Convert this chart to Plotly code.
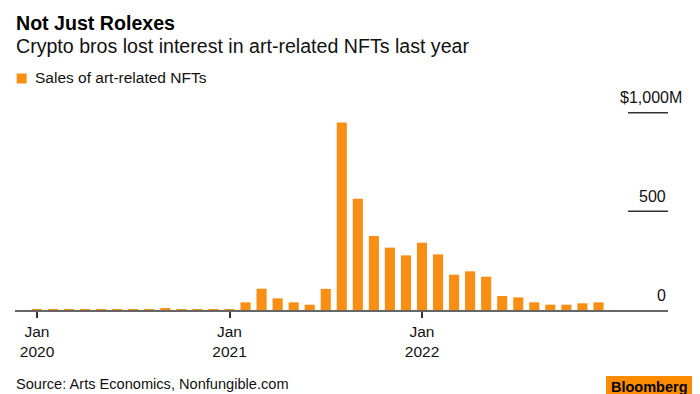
import plotly.graph_objects as go

# ---- data ----
month_labels = [f"{m} {y}" for y in (2020, 2021, 2022)
                for m in ["Jan", "Feb", "Mar", "Apr", "May", "Jun",
                          "Jul", "Aug", "Sep", "Oct", "Nov", "Dec"]]
sales_2020 = [4, 3, 3, 3, 3, 3, 3, 3, 10, 3, 3, 3]
sales_2021 = [4, 39, 108, 59, 39, 27, 107, 950, 564, 375, 316, 277]
sales_2022 = [341, 282, 179, 196, 169, 71, 64, 39, 27, 27, 34, 39]
sales = sales_2020 + sales_2021 + sales_2022
month_index = list(range(len(sales)))

tick_vals = [0, 12, 24]
tick_text = ["Jan<br>2020", "Jan<br>2021", "Jan<br>2022"]
y_ticks = [0, 500, 1000]
y_tick_text = ["0", "500", "$1,000M"]

title = "Not Just Rolexes"
subtitle = "Crypto bros lost interest in art-related NFTs last year"
series_name = "Sales of art-related NFTs"
source = "Source: Arts Economics, Nonfungible.com"

# ---- layout geometry ----
W, H = 700, 394
ML, MR, MT, MB = 15, 32, 110, 84
PW, PH = W - ML - MR, H - MT - MB
FONT = "Liberation Sans, Arial, Helvetica, sans-serif"
ORANGE = "#F98E14"


def px_x(px):
    return (px - ML) / PW


def px_y(py):
    return (H - MB - py) / PH


fig = go.Figure()
fig.add_trace(go.Bar(
    x=month_index, y=sales, name=series_name,
    marker=dict(color=ORANGE, line=dict(width=0)),
    customdata=month_labels,
    hovertemplate="%{customdata}: $%{y}M<extra></extra>",
))

shapes = []
annotations = []

# right-side short gridlines
for v in y_ticks[1:]:
    shapes.append(dict(type="line", xref="paper", yref="y",
                       x0=px_x(628), x1=1, y0=v, y1=v,
                       line=dict(color="#333333", width=1.5)))

# y tick labels
label_shift = {0: 0, 500: 0, 1000: 16}
label_yshift = {0: 15, 500: 14.5, 1000: 15.5}
for v, t in zip(y_ticks, y_tick_text):
    annotations.append(dict(xref="paper", yref="y", x=1, y=v, text=t,
                            xanchor="right", yanchor="middle",
                            xshift=label_shift[v], yshift=label_yshift[v],
                            showarrow=False,
                            font=dict(family=FONT, size=16, color="#111111")))

# title, subtitle
annotations.append(dict(xref="paper", yref="paper", x=px_x(14), y=px_y(22.5),
                        text=f"<b>{title}</b>", xanchor="left", yanchor="middle",
                        showarrow=False,
                        font=dict(family=FONT, size=19.6, color="#000000")))
annotations.append(dict(xref="paper", yref="paper", x=px_x(14), y=px_y(45.5),
                        text=subtitle, xanchor="left", yanchor="middle",
                        showarrow=False,
                        font=dict(family=FONT, size=19.6, color="#111111")))

# legend
shapes.append(dict(type="rect", xref="paper", yref="paper",
                   x0=px_x(16.7), x1=px_x(26.7), y0=px_y(83.5), y1=px_y(73.5),
                   fillcolor=ORANGE, line=dict(width=0)))
annotations.append(dict(xref="paper", yref="paper", x=px_x(32.5), y=px_y(77.5),
                        text=series_name, xanchor="left", yanchor="middle",
                        showarrow=False,
                        font=dict(family=FONT, size=15.5, color="#111111")))

# source
annotations.append(dict(xref="paper", yref="paper", x=px_x(14), y=px_y(384.2),
                        text=source, xanchor="left", yanchor="middle",
                        showarrow=False,
                        font=dict(family=FONT, size=14.6, color="#111111")))

# Bloomberg badge
shapes.append(dict(type="rect", xref="paper", yref="paper",
                   x0=px_x(606), x1=px_x(692), y0=px_y(400), y1=px_y(376),
                   fillcolor="#FB8C00", line=dict(width=0)))
annotations.append(dict(xref="paper", yref="paper", x=px_x(649), y=px_y(386.5),
                        text="<b>Bloomberg</b>", xanchor="center", yanchor="middle",
                        showarrow=False,
                        font=dict(family=FONT, size=14.5, color="#000000")))

px_per_month = (422 - 37) / 24
x_lo = (ML - 37) / px_per_month
x_hi = (W - MR - 37) / px_per_month
y_hi = PH / ((310 - 112.7) / 1000)

fig.update_layout(
    width=W, height=H,
    margin=dict(l=ML, r=MR, t=MT, b=MB, pad=0),
    paper_bgcolor="white", plot_bgcolor="white",
    showlegend=False,
    bargap=0.37,
    font=dict(family=FONT, color="#111111"),
    xaxis=dict(range=[x_lo, x_hi], tickmode="array", tickvals=tick_vals,
               ticktext=tick_text, ticks="outside", ticklen=6, tickwidth=1.5,
               tickcolor="#333333", showgrid=False, zeroline=False,
               showline=True, linecolor="#666666", linewidth=2,
               layer="below traces",
               tickfont=dict(family=FONT, size=15.5, color="#111111")),
    yaxis=dict(range=[0, y_hi], showgrid=False, zeroline=False,
               showticklabels=False, ticks="", showline=False),
    shapes=shapes,
    annotations=annotations,
)

fig.write_html(
    "out.html",
    config={"displayModeBar": False},
    post_script="document.body.style.margin='0px';document.body.style.overflow='hidden';",
)
